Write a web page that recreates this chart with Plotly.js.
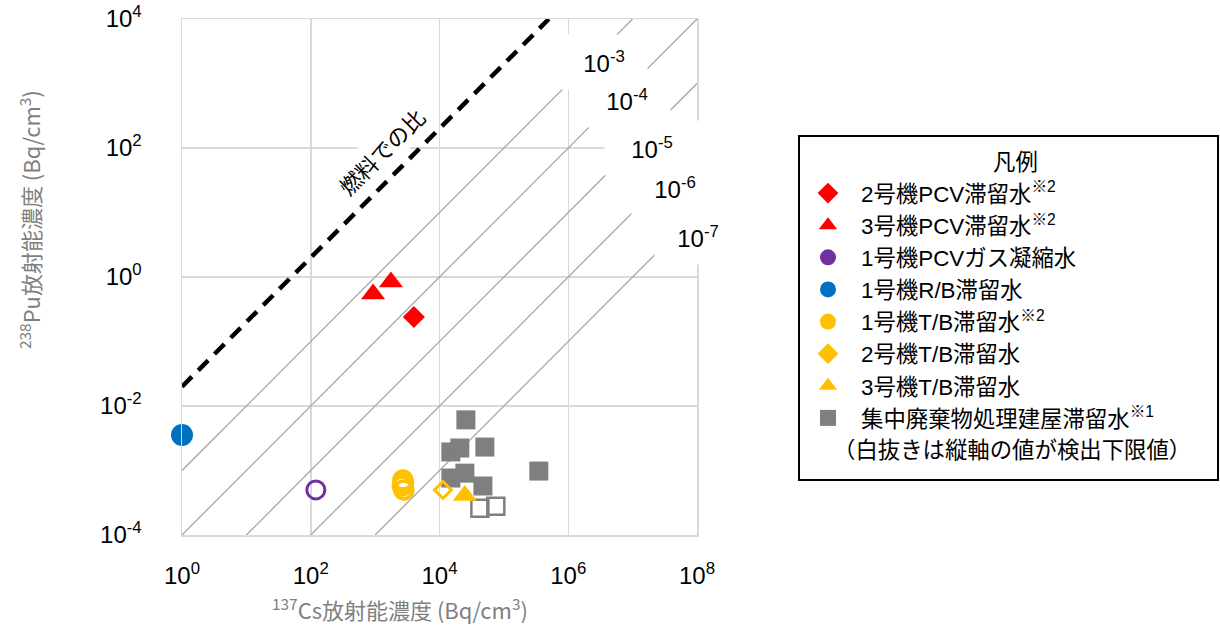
<!DOCTYPE html>
<html><head><meta charset="utf-8">
<script src="https://cdn.plot.ly/plotly-3.0.1.min.js"></script>
<style>html,body{margin:0;padding:0;background:#fff;}#chart{width:1220px;height:633px;}</style>
</head><body><div id="chart"></div>
<script>
// ---------------- data ----------------
const xTickVals = [1, 1e2, 1e4, 1e6, 1e8];
const xTickText = ['10<sup>0</sup>', '10<sup>2</sup>', '10<sup>4</sup>', '10<sup>6</sup>', '10<sup>8</sup>'];
const yTickVals = [1e-4, 1e-2, 1, 1e2, 1e4];
const yTickText = ['10<sup>-4</sup>', '10<sup>-2</sup>', '10<sup>0</sup>', '10<sup>2</sup>', '10<sup>4</sup>'];

const ratioValues = [1e-3, 1e-4, 1e-5, 1e-6, 1e-7];
const ratioLabels = ['10<sup>-3</sup>', '10<sup>-4</sup>', '10<sup>-5</sup>', '10<sup>-6</sup>', '10<sup>-7</sup>'];
const fuelRatio = 0.02;
const fuelLabel = '燃料での比';

const seriesNames = [
  '2号機PCV滞留水<sup>※2</sup>',
  '3号機PCV滞留水<sup>※2</sup>',
  '1号機PCVガス凝縮水',
  '1号機R/B滞留水',
  '1号機T/B滞留水<sup>※2</sup>',
  '2号機T/B滞留水',
  '3号機T/B滞留水',
  '集中廃棄物処理建屋滞留水<sup>※1</sup>'
];
const legendTitle = '凡例';
const legendNote = '（白抜きは縦軸の値が検出下限値）';
const xTitle = '<sup>137</sup>Cs放射能濃度 (Bq/cm<sup>3</sup>)';
const yTitle = '<sup>238</sup>Pu放射能濃度 (Bq/cm<sup>3</sup>)';

const unit2PcvCs = [4000];            const unit2PcvPu = [0.24];
const unit3PcvCs = [930, 1760];       const unit3PcvPu = [0.545, 0.836];
const unit1GasCs = [120];             const unit1GasPu = [5.0e-4];
const unit1RbCs = [1];                const unit1RbPu = [3.55e-3];
const unit1TbCs = [2700, 2750, 2650, 2800]; const unit1TbPu = [7.1e-4, 6.4e-4, 5.75e-4, 5.0e-4];
const unit2TbCs = [11300];            const unit2TbPu = [5.0e-4];
const unit3TbCs = [24700];            const unit3TbPu = [4.1e-4];
const centralCs = [25700, 15000, 20700, 50700, 349000, 15000, 24800, 47200];
const centralPu = [6.1e-3, 1.94e-3, 2.23e-3, 2.31e-3, 9.8e-4, 7.65e-4, 9.1e-4, 5.75e-4];
const centralOpenCs = [42400, 75000];
const centralOpenPu = [2.6e-4, 2.8e-4];

// ---------------- layout helpers ----------------
const W = 1220, H = 633;
const px = v => v / W;
const py = v => 1 - v / H;
const PX0 = 182, PX1 = 697, PY0 = 19, PY1 = 535;
const xMin = 1, xMax = 1e8, yMin = 1e-4, yMax = 1e4;

const RED = '#ff0000', PURPLE = '#7030a0', BLUE = '#0070c0', YELLOW = '#ffc000', GRAY = '#7f7f7f';
const tickFont = {family: 'Liberation Sans, Arial, sans-serif', size: 24, color: '#000'};
const jpFont = 'Liberation Sans, Noto Sans CJK JP, sans-serif';

function ratioLine(r) {
  const xs = [Math.max(xMin, yMin / r), Math.min(xMax, yMax / r)];
  return {x: xs, y: xs.map(v => v * r)};
}

const traces = [];
// reference ratio lines
ratioValues.forEach(r => {
  const l = ratioLine(r);
  traces.push({type: 'scatter', mode: 'lines', x: l.x, y: l.y, showlegend: false, hoverinfo: 'skip',
    line: {color: '#a6a6a6', width: 1.3}});
});
// fuel ratio dashed line
(function () {
  const l = ratioLine(fuelRatio);
  traces.push({type: 'scatter', mode: 'lines', x: l.x, y: l.y, showlegend: false, hoverinfo: 'skip',
    line: {color: '#000', width: 4.5, dash: '14px,9px'}});
})();

// legend-only entries
const legendSymbols = ['diamond', 'triangle-up', 'circle', 'circle', 'circle', 'diamond', 'triangle-up', 'square'];
const legendColors = [RED, RED, PURPLE, BLUE, YELLOW, YELLOW, YELLOW, GRAY];
seriesNames.forEach((n, i) => {
  traces.push({type: 'scatter', mode: 'markers', x: [null], y: [null], name: n, showlegend: true,
    hoverinfo: 'skip', marker: {symbol: legendSymbols[i], color: legendColors[i], size: 16}});
});

function pts(x, y, marker) {
  return {type: 'scatter', mode: 'markers', x: x, y: y, showlegend: false, marker: marker, cliponaxis: false};
}
traces.push(pts(centralCs, centralPu, {symbol: 'square', size: 19, color: GRAY}));
traces.push(pts(centralOpenCs, centralOpenPu, {symbol: 'square-open', size: 17, color: GRAY, line: {width: 2.5, color: GRAY}}));
traces.push(pts(unit1TbCs, unit1TbPu, {symbol: 'circle-open', size: 18, color: YELLOW, line: {width: 3.5, color: YELLOW}}));
traces.push(pts(unit2TbCs, unit2TbPu, {symbol: 'diamond-open', size: 13, color: YELLOW, line: {width: 3, color: YELLOW}}));
traces.push(pts(unit3TbCs, unit3TbPu, {symbol: 'triangle-up', size: 21, color: YELLOW}));
traces.push(pts(unit1GasCs, unit1GasPu, {symbol: 'circle-open', size: 18, color: PURPLE, line: {width: 3, color: PURPLE}}));
traces.push(pts(unit1RbCs, unit1RbPu, {symbol: 'circle', size: 22, color: BLUE}));
traces.push(pts(unit3PcvCs, unit3PcvPu, {symbol: 'triangle-up', size: 21, color: RED}));
traces.push(pts(unit2PcvCs, unit2PcvPu, {symbol: 'diamond', size: 17, color: RED}));

// annotations
const ratioLabelPos = [[604, 62, 86], [627, 100, 86], [652, 148, 94], [675, 188, 86], [698, 237, 86]];
const annotations = [];
ratioLabels.forEach((t, i) => {
  const p = ratioLabelPos[i];
  annotations.push({xref: 'paper', yref: 'paper', x: px(p[0]), y: py(p[1]), xanchor: 'center', yanchor: 'middle',
    text: t, showarrow: false, font: tickFont, bgcolor: '#ffffff', width: p[2], height: 54, align: 'center', valign: 'middle', borderpad: 0});
});
annotations.push({xref: 'paper', yref: 'paper', x: px(381), y: py(151), xanchor: 'center', yanchor: 'middle',
  text: fuelLabel, textangle: -45, showarrow: false, bgcolor: '#ffffff', borderpad: 2,
  font: {family: 'Noto Sans CJK JP, sans-serif', size: 22, color: '#000'}});
annotations.push({xref: 'paper', yref: 'paper', x: px(400), y: py(608), xanchor: 'center', yanchor: 'middle',
  text: xTitle, showarrow: false, font: {family: 'Noto Sans CJK JP, sans-serif', size: 22, color: '#7f7f7f'}});
annotations.push({xref: 'paper', yref: 'paper', x: px(30), y: py(220), xanchor: 'center', yanchor: 'middle',
  text: yTitle, textangle: -90, showarrow: false, font: {family: 'Noto Sans CJK JP, sans-serif', size: 22, color: '#7f7f7f'}});
annotations.push({xref: 'paper', yref: 'paper', x: px(1015), y: py(162), xanchor: 'center', yanchor: 'middle',
  text: legendTitle, showarrow: false, font: {family: jpFont, size: 22.4, color: '#000'}});
annotations.push({xref: 'paper', yref: 'paper', x: px(1012), y: py(450), xanchor: 'center', yanchor: 'middle',
  text: legendNote, showarrow: false, font: {family: jpFont, size: 22.4, color: '#000'}});

const axisCommon = {
  type: 'log', tickfont: tickFont, ticks: 'outside', tickcolor: 'rgba(0,0,0,0)',
  showgrid: true, gridcolor: '#d9d9d9', gridwidth: 1.5,
  showline: true, linecolor: '#d9d9d9', linewidth: 1.5, mirror: true,
  zeroline: false, fixedrange: true, automargin: false
};

const layout = {
  width: W, height: H,
  margin: {l: 0, r: 0, t: 0, b: 0},
  paper_bgcolor: '#ffffff', plot_bgcolor: '#ffffff',
  xaxis: Object.assign({}, axisCommon, {range: [0, 8], domain: [px(PX0), px(PX1)], anchor: 'y',
    tickvals: xTickVals, ticktext: xTickText, ticklen: 19}),
  yaxis: Object.assign({}, axisCommon, {range: [-4, 4], domain: [py(PY1), py(PY0)], anchor: 'x',
    tickvals: yTickVals, ticktext: yTickText, ticklen: 34}),
  showlegend: true,
  legend: {x: px(795), y: py(172), xanchor: 'left', yanchor: 'top', itemwidth: 56,
    bgcolor: 'rgba(0,0,0,0)', borderwidth: 0, traceorder: 'normal',
    font: {family: jpFont, size: 22.4, color: '#000'}},
  shapes: [{type: 'rect', xref: 'paper', yref: 'paper', x0: px(799), x1: px(1218), y0: py(136), y1: py(480),
    line: {color: '#000', width: 2}, fillcolor: 'rgba(0,0,0,0)', layer: 'above'}],
  annotations: annotations
};

Plotly.newPlot('chart', traces, layout, {staticPlot: true, displayModeBar: false});
</script></body></html>
